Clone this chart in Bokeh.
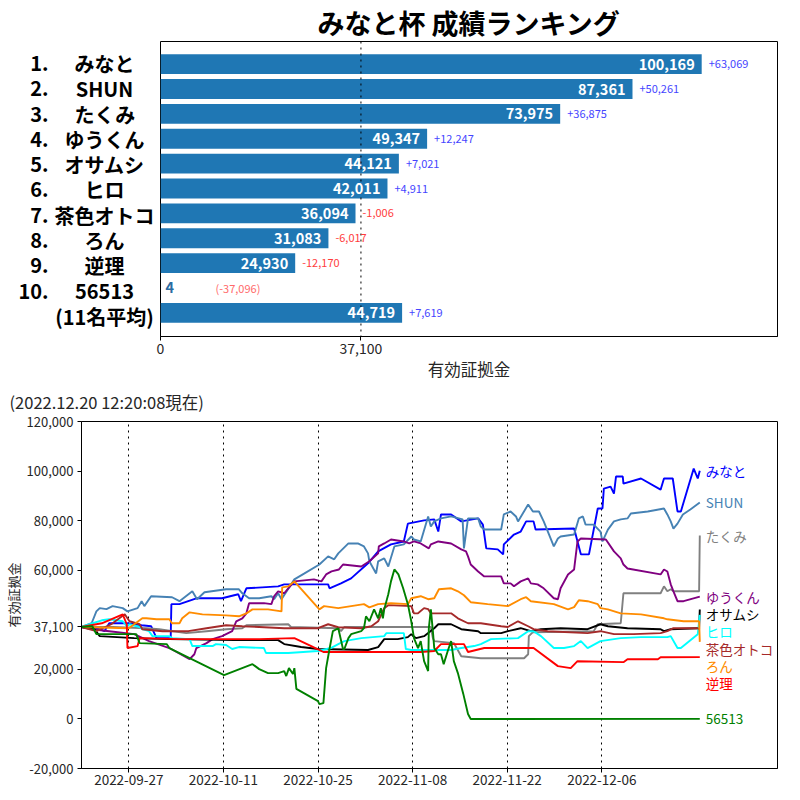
import pandas as pd
from bokeh.plotting import figure
from bokeh.models import (ColumnDataSource, LabelSet, Span, FixedTicker, Title,
                          NumeralTickFormatter, DatetimeTickFormatter, Range1d)
from bokeh.layouts import column, row
from bokeh.embed import file_html
from bokeh.resources import INLINE
from bokeh.core.properties import value

FONT = "Noto Sans CJK JP"

# ---------------- ranking data ----------------
title_text = "みなと杯 成績ランキング"
asof_text = "(2022.12.20 12:20:08現在)"
axis_title = "有効証拠金"
initial_margin = 37100

rank_labels = ["1.", "2.", "3.", "4.", "5.", "6.", "7.", "8.", "9.", "10.", ""]
names = ["みなと", "SHUN", "たくみ", "ゆうくん", "オサムシ", "ヒロ", "茶色オトコ",
         "ろん", "逆理", "56513", "(11名平均)"]
balances = [100169, 87361, 73975, 49347, 44121, 42011, 36094, 31083, 24930, 4, 44719]
deltas = [63069, 50261, 36875, 12247, 7021, 4911, -1006, -6017, -12170, -37096, 7619]

top_x_ticks = [0, 37100]
top_x_max = 114200

# ---------------- time series ----------------
date_start = "2022-09-20"
date_end = "2023-01-01"
date_ticks = ["2022-09-27", "2022-10-11", "2022-10-25", "2022-11-08", "2022-11-22", "2022-12-06"]
y_ticks = [-20000, 0, 20000, 37100, 60000, 80000, 100000, 120000]

# days since 2022-09-20 00:00, balance in yen
minato_days = [0, 2.7, 3.4, 4.1, 6.7, 8.9, 10.3, 11.1, 13.2, 13.3, 14.5, 17.1, 20.8, 23.2, 23.6, 24.4, 29.1, 30.0, 36.5, 36.7, 38.4, 39.9, 42.4, 43.9, 45.8, 47.7, 48.3, 50.7, 52.2, 52.8, 53.2, 54.7, 56.2, 58.7, 59.4, 59.9, 61.6, 62.4, 62.5, 64.0, 65.0, 65.8, 66.9, 67.2, 72.9, 73.9, 75.1, 76.4, 77.1, 77.3, 78.3, 78.8, 79.1, 80.1, 80.2, 82.8, 85.7, 86.2, 87.5, 88.2, 88.7, 90.6, 91.2, 91.5]
minato_vals = [37100, 36200, 35400, 38600, 38600, 37800, 37400, 32600, 32600, 46300, 46300, 48700, 48700, 50300, 47500, 52700, 53500, 54300, 54300, 52700, 54700, 56700, 62800, 67600, 70400, 71600, 78800, 80100, 80500, 75600, 82500, 82500, 79700, 80900, 78400, 68800, 68400, 66400, 70400, 74400, 75600, 79700, 79700, 76400, 76800, 66400, 66400, 84900, 84900, 92900, 93700, 90900, 97800, 97800, 94900, 97000, 92500, 97000, 97000, 83700, 83700, 101000, 97000, 100169]

shun_days = [0, 1.5, 2.2, 2.7, 3.7, 4.6, 6.1, 6.8, 8.3, 8.9, 9.3, 10.3, 13.4, 14.5, 16.4, 17.1, 18.2, 21.4, 23.3, 23.8, 24.8, 26.3, 28.1, 28.5, 29.1, 29.6, 31.5, 33.0, 35.2, 36.5, 37.4, 38.0, 39.5, 40.9, 41.8, 42.4, 42.6, 43.6, 43.9, 44.8, 45.4, 46.3, 47.7, 48.8, 49.2, 50.2, 51.3, 51.7, 52.2, 53.2, 54.7, 56.4, 56.6, 57.2, 58.7, 59.1, 59.6, 62.1, 62.5, 63.5, 64.3, 64.6, 66.1, 66.8, 67.7, 68.4, 69.9, 70.5, 70.9, 72.9, 73.6, 74.2, 74.6, 75.8, 76.8, 77.1, 77.9, 78.8, 79.8, 80.8, 81.3, 83.8, 86.2, 86.7, 87.2, 87.6, 88.2, 89.0, 90.1, 91.5]
shun_vals = [37100, 38600, 43400, 44700, 44300, 45500, 44700, 43400, 44700, 47500, 45500, 49500, 49100, 47500, 51500, 48300, 51100, 52300, 52300, 50700, 48700, 48700, 49500, 48300, 50700, 48300, 56300, 58700, 62300, 65600, 64400, 66800, 70800, 70800, 69600, 66800, 63600, 58700, 63600, 64800, 61500, 69600, 70400, 73600, 72400, 71600, 81700, 77600, 79700, 80900, 81700, 80500, 68800, 80900, 80900, 77600, 76400, 76400, 82500, 83700, 81700, 79700, 86500, 83700, 83700, 79700, 69600, 72800, 73600, 74400, 80900, 81700, 78400, 78400, 75600, 71600, 76400, 79700, 80500, 80900, 82900, 83700, 84900, 82500, 79700, 76800, 78800, 82500, 84500, 87361]

takumi_days = [0, 4.6, 9.6, 11.5, 15.5, 18.5, 21.4, 23.8, 24.4, 30.6, 31.0, 38.0, 38.4, 38.9, 51.7, 52.0, 52.2, 55.1, 56.2, 59.1, 65.5, 66.1, 66.2, 66.8, 75.8, 76.4, 79.8, 80.2, 85.7, 86.2, 86.7, 87.2, 87.6, 90.9, 91.4, 91.5]
takumi_vals = [37100, 37100, 36600, 36200, 34600, 35400, 36200, 36600, 37800, 38200, 37100, 36600, 35400, 37100, 37100, 32600, 31400, 30600, 25300, 24500, 24500, 26100, 33400, 35000, 35400, 38200, 38600, 50700, 50700, 53500, 51500, 52300, 51500, 51500, 51500, 73975]

yuukun_days = [0, 1.6, 4.1, 7.8, 10.0, 13.0, 16.0, 16.7, 17.0, 18.5, 19.4, 20.8, 22.3, 22.9, 23.8, 24.4, 24.8, 27.0, 28.1, 28.5, 29.1, 30.0, 30.6, 31.5, 34.4, 35.5, 36.2, 37.0, 38.1, 38.7, 41.4, 42.6, 43.9, 44.0, 44.8, 45.8, 47.7, 48.5, 49.2, 50.2, 51.4, 51.7, 52.8, 54.7, 56.2, 56.9, 57.2, 57.6, 58.7, 59.6, 62.1, 62.5, 63.5, 64.0, 65.0, 66.1, 66.5, 67.5, 68.4, 69.9, 70.5, 70.9, 72.0, 72.9, 73.4, 73.9, 77.6, 78.8, 79.8, 80.2, 80.8, 85.7, 86.2, 86.7, 87.2, 87.6, 88.2, 89.1, 91.5]
yuukun_vals = [37100, 36200, 35400, 34200, 31400, 28600, 24100, 26100, 28600, 30600, 32200, 33400, 35400, 39400, 40600, 42600, 46700, 46700, 46300, 49500, 51500, 50700, 52700, 55500, 56300, 55500, 58300, 59500, 60300, 62300, 61500, 63600, 66800, 69600, 70800, 72400, 71600, 70800, 71600, 70800, 68800, 70400, 71600, 70800, 68400, 67600, 65600, 62300, 59500, 57500, 57500, 54700, 54700, 53500, 55500, 56700, 54700, 54300, 52700, 48700, 48300, 52700, 58300, 60300, 71600, 72800, 72400, 67600, 64800, 62300, 60700, 58300, 60300, 59500, 54300, 51500, 47500, 47500, 49347]

osamushi_days = [0, 1.9, 2.7, 7.8, 12.9, 22.6, 29.1, 30.0, 32.5, 35.0, 42.4, 43.9, 44.8, 46.8, 48.3, 48.8, 49.5, 50.7, 52.2, 52.8, 54.7, 56.2, 58.7, 59.1, 62.1, 63.1, 65.0, 66.5, 68.0, 70.9, 74.9, 76.8, 77.9, 80.8, 85.7, 86.2, 87.2, 91.2, 91.4, 91.5]
osamushi_vals = [37100, 36200, 33400, 32600, 32200, 31800, 31800, 30200, 29000, 28200, 27800, 29000, 32200, 32200, 33000, 34200, 32600, 33400, 36600, 38200, 38200, 36200, 35400, 34600, 34600, 35400, 36600, 35400, 36200, 36600, 36200, 38200, 37400, 36600, 36200, 35400, 36200, 36600, 36600, 44121]

hiro_days = [0, 1.2, 3.0, 4.1, 6.1, 6.7, 7.1, 8.6, 9.0, 10.0, 10.5, 13.0, 13.4, 16.0, 16.4, 19.4, 19.9, 21.4, 22.3, 23.3, 27.0, 27.3, 30.6, 35.0, 36.9, 38.0, 38.9, 41.4, 44.8, 45.1, 47.7, 48.0, 48.8, 54.7, 56.2, 58.1, 59.1, 60.6, 64.6, 66.1, 66.9, 68.0, 69.9, 71.4, 72.9, 73.9, 74.9, 76.8, 78.8, 79.8, 82.8, 86.7, 87.2, 88.2, 88.7, 91.2, 91.5]
hiro_vals = [37100, 38200, 39800, 40200, 39400, 37400, 38200, 37100, 36200, 35400, 33400, 33400, 32600, 32200, 29400, 29400, 30200, 29800, 28200, 29000, 28600, 26600, 26600, 27400, 28600, 30200, 31400, 32600, 33400, 34600, 34600, 28200, 27800, 27800, 28600, 29400, 30200, 32200, 32600, 35400, 35400, 33400, 28600, 28600, 29400, 31400, 28600, 31400, 32200, 32600, 33000, 33000, 33400, 28600, 28600, 34200, 42011]

chairo_days = [0, 2.2, 4.4, 6.4, 7.1, 8.6, 9.0, 12.0, 15.8, 18.5, 21.4, 23.8, 26.3, 30.0, 35.0, 36.5, 38.0, 41.4, 42.9, 43.9, 44.8, 45.4, 48.8, 49.2, 49.8, 50.7, 51.3, 51.7, 54.7, 55.7, 57.2, 59.1, 62.1, 63.1, 64.6, 66.1, 66.9, 69.0, 74.9, 76.8, 78.8, 81.7, 85.7, 86.7, 87.6, 91.2, 91.5]
chairo_vals = [37100, 35400, 38200, 42200, 39400, 38200, 36200, 35400, 35400, 36600, 37800, 37400, 37100, 36600, 36600, 38200, 37000, 36600, 37400, 39400, 44700, 45900, 45500, 42600, 42600, 44700, 44300, 42600, 42600, 40600, 38600, 38600, 37400, 37100, 39400, 37400, 36200, 35400, 34600, 35400, 34200, 34200, 34600, 35400, 36600, 36600, 36094]

ron_days = [0, 7.0, 7.8, 9.0, 9.6, 11.1, 13.0, 13.4, 14.5, 14.9, 16.0, 17.9, 21.4, 23.3, 24.4, 25.3, 27.6, 29.6, 29.7, 30.6, 31.5, 35.2, 35.9, 38.0, 39.9, 41.8, 42.6, 43.9, 45.8, 48.3, 48.8, 50.2, 51.3, 52.2, 52.9, 54.7, 55.7, 56.6, 57.6, 60.1, 63.1, 65.0, 65.8, 66.5, 69.9, 72.0, 72.9, 73.6, 74.9, 76.4, 76.8, 77.9, 79.8, 82.8, 86.2, 86.7, 89.1, 90.9, 91.4, 91.5]
ron_vals = [37100, 36600, 38200, 40600, 40600, 40200, 40200, 38600, 38600, 40600, 43000, 42200, 41800, 41400, 42600, 44200, 44200, 43400, 53100, 53500, 55500, 44200, 45500, 44700, 45500, 46300, 45000, 46300, 46700, 46300, 48700, 49500, 48300, 48700, 52300, 52700, 51500, 49900, 47100, 46300, 45500, 48300, 49100, 47500, 46300, 44200, 45100, 47900, 47500, 46300, 44700, 44200, 42600, 42200, 40600, 40200, 39400, 39400, 39400, 31083]

gyakuri_days = [0, 3.0, 6.1, 6.7, 6.8, 8.3, 8.6, 14.5, 26.3, 31.5, 34.0, 35.8, 50.2, 52.2, 53.2, 56.6, 57.2, 59.6, 66.9, 70.5, 72.4, 73.4, 80.2, 80.8, 85.3, 85.7, 91.5]
gyakuri_vals = [37100, 38600, 42200, 38200, 28600, 29400, 32600, 32200, 32200, 32600, 29400, 27000, 27000, 27400, 30200, 30200, 27000, 28600, 28600, 21300, 20500, 23300, 22900, 24100, 24100, 24900, 24930]

p56513_days = [0, 1.6, 2.2, 8.1, 8.6, 12.6, 13.0, 21.1, 25.3, 26.3, 27.6, 29.1, 30.0, 30.3, 30.7, 31.3, 31.5, 31.8, 35.0, 35.2, 35.8, 36.2, 36.7, 37.2, 38.0, 38.7, 38.9, 39.5, 39.9, 41.4, 41.8, 42.1, 42.6, 43.3, 43.9, 44.3, 44.6, 44.8, 45.4, 45.8, 46.3, 46.9, 47.6, 48.3, 48.8, 49.2, 49.8, 50.2, 50.7, 51.3, 51.4, 51.7, 52.0, 52.2, 52.8, 53.2, 53.6, 54.2, 54.7, 55.1, 55.7, 56.5, 57.2, 57.6, 91.5]
p56513_vals = [37100, 37400, 34200, 34200, 30600, 30200, 28600, 17700, 22100, 20100, 18500, 18500, 19300, 17300, 20500, 18100, 20500, 12100, 7200, 6000, 6400, 20500, 28200, 35400, 36600, 28200, 28200, 32600, 34200, 35400, 36600, 41400, 39400, 44200, 40600, 44700, 40600, 44200, 50300, 55500, 60300, 58300, 52700, 46300, 39400, 32600, 28600, 31400, 23300, 19300, 36600, 44200, 35400, 28600, 26100, 26100, 22100, 27400, 31400, 23300, 18500, 10100, 2000, 0, 4]

series_names = ["みなと", "SHUN", "たくみ", "ゆうくん", "オサムシ", "ヒロ", "茶色オトコ", "ろん", "逆理", "56513"]
series_days = [minato_days, shun_days, takumi_days, yuukun_days, osamushi_days,
               hiro_days, chairo_days, ron_days, gyakuri_days, p56513_days]
series_vals = [minato_vals, shun_vals, takumi_vals, yuukun_vals, osamushi_vals,
               hiro_vals, chairo_vals, ron_vals, gyakuri_vals, p56513_vals]
series_colors = ["blue", "steelblue", "gray", "purple", "black",
                 "cyan", "brown", "darkorange", "red", "green"]


def no_align(fig):
    try:
        fig.frame_align = False
    except Exception:
        pass


TOP_H = 383
BOT_H = 800 - TOP_H
LABEL_W = 156

# =============== top: ranking bar chart ===============
rows = list(range(len(names)))
bar_y_range = Range1d(10.95, -0.91)

label_fig = figure(width=LABEL_W, height=TOP_H, output_backend="svg", toolbar_location=None,
                   title=None, x_range=Range1d(0, LABEL_W), y_range=bar_y_range,
                   x_axis_location=None, y_axis_location=None,
                   min_border_left=0, min_border_right=0, min_border_top=40, min_border_bottom=TOP_H - 340)
label_fig.grid.visible = False
label_fig.outline_line_color = None
no_align(label_fig)

name_src = ColumnDataSource(dict(row=rows, rank=rank_labels, name=names))
label_fig.text(x=48, y="row", text="rank", source=name_src, text_align="right",
               text_baseline="middle", text_color="black", text_font=value(FONT),
               text_font_size="20px", text_font_style="bold")
label_fig.text(x=104, y="row", text="name", source=name_src, text_align="center",
               text_baseline="middle", text_color="black", text_font=value(FONT),
               text_font_size="20px", text_font_style="bold")

top = figure(width=800 - LABEL_W, height=TOP_H, output_backend="svg", toolbar_location=None,
             x_range=Range1d(0, top_x_max), y_range=bar_y_range, y_axis_location=None,
             min_border_left=4, min_border_right=23, min_border_top=40, min_border_bottom=TOP_H - 340)
no_align(top)
top.title.text = title_text
top.title.align = "center"
top.title.text_font = FONT
top.title.text_font_size = "27px"
top.title.text_font_style = "bold"
top.title.text_color = "black"
top.title.standoff = 0
top.xgrid.visible = False
top.ygrid.visible = False
top.outline_line_color = "black"
top.outline_line_alpha = 1.0

bar_src = ColumnDataSource(dict(row=rows, bal=balances))
top.hbar(y="row", left=0, right="bal", height=0.8, fill_color="#1f77b4", line_color=None, source=bar_src)
top.add_layout(Span(location=initial_margin, dimension="height", line_color="black",
                    line_dash="dotted", line_width=1))

ax = top.xaxis[0]
ax.ticker = FixedTicker(ticks=top_x_ticks)
ax.formatter = NumeralTickFormatter(format="0,0")
ax.minor_tick_line_color = None
ax.major_tick_in = 0
ax.major_tick_out = 4
ax.axis_line_color = "black"
ax.major_tick_line_color = "black"
ax.major_label_text_font = FONT
ax.major_label_text_font_size = "14px"
ax.major_label_text_color = "#262626"
ax.major_label_standoff = 2
ax.axis_label = axis_title
ax.axis_label_text_font = FONT
ax.axis_label_text_font_size = "16.5px"
ax.axis_label_text_font_style = "normal"
ax.axis_label_text_color = "#262626"
ax.axis_label_standoff = 0

inside = [b >= 10000 for b in balances]
in_idx = [i for i in rows if inside[i]]
out_idx = [i for i in rows if not inside[i]]

val_in = ColumnDataSource(dict(row=[rows[i] for i in in_idx], bal=[balances[i] for i in in_idx],
                               txt=[f"{balances[i]:,}" for i in in_idx]))
val_out = ColumnDataSource(dict(row=[rows[i] for i in out_idx], bal=[balances[i] for i in out_idx],
                                txt=[f"{balances[i]:,}" for i in out_idx]))
top.add_layout(LabelSet(x="bal", y="row", text="txt", source=val_in, x_offset=-7,
                        text_align="right", text_baseline="middle", text_color="white",
                        text_font=value(FONT), text_font_size="14.5px", text_font_style="bold"))
top.add_layout(LabelSet(x="bal", y="row", text="txt", source=val_out, x_offset=5,
                        text_align="left", text_baseline="middle", text_color="#2b6ca3",
                        text_font=value(FONT), text_font_size="14.5px", text_font_style="bold"))

d_txt = [(f"{d:+,}" if ins else f"({d:+,})") for d, ins in zip(deltas, inside)]
d_col = [(("#4545ff" if d > 0 else "#ff3c3c") if ins else "#ff6a6a") for d, ins in zip(deltas, inside)]
d_off = [7 if ins else 55 for ins in inside]
delta_src = ColumnDataSource(dict(row=rows, bal=balances, txt=d_txt, col=d_col, off=d_off))
top.add_layout(LabelSet(x="bal", y="row", text="txt", source=delta_src, x_offset="off",
                        text_align="left", text_baseline="middle", text_color="col",
                        text_font=value(FONT), text_font_size="11px"))

# =============== bottom: time series ===============
t0 = pd.Timestamp(date_start)
bot = figure(width=800, height=BOT_H, x_axis_type="datetime", output_backend="svg",
             toolbar_location=None,
             x_range=Range1d(t0, pd.Timestamp(date_end)), y_range=Range1d(-20000, 120000),
             min_border_left=80, min_border_right=23, min_border_top=420 - TOP_H, min_border_bottom=32)
no_align(bot)
bot.title.text = asof_text
bot.title.align = "left"
bot.title.vertical_align = "top"
bot.title.offset = -72
bot.title.standoff = 12
bot.title.text_font = FONT
bot.title.text_font_size = "16.5px"
bot.title.text_font_style = "normal"
bot.title.text_color = "#262626"
bot.outline_line_color = "black"
bot.outline_line_alpha = 1.0
bot.ygrid.visible = False

tick_ms = [pd.Timestamp(d).value // 10**6 for d in date_ticks]
xa = bot.xaxis[0]
xa.ticker = FixedTicker(ticks=tick_ms)
fmt = "%Y-%m-%d"
xa.formatter = DatetimeTickFormatter(milliseconds=fmt, seconds=fmt, minsec=fmt, minutes=fmt,
                                     hourmin=fmt, hours=fmt, days=fmt, months=fmt, years=fmt)
bot.xgrid.ticker = FixedTicker(ticks=tick_ms)
bot.xgrid.grid_line_color = "black"
bot.xgrid.grid_line_alpha = 1.0
bot.xgrid.grid_line_dash = "dotted"
bot.xgrid.grid_line_width = 1

ya = bot.yaxis[0]
ya.ticker = FixedTicker(ticks=y_ticks)
ya.formatter = NumeralTickFormatter(format="0,0")

for a in (xa, ya):
    a.minor_tick_line_color = None
    a.major_tick_in = 0
    a.major_tick_out = 4
    a.axis_line_color = "black"
    a.major_tick_line_color = "black"
    a.major_label_text_font = FONT
    a.major_label_text_color = "#262626"
    a.major_label_standoff = 2
xa.major_label_text_font_size = "13.5px"
ya.major_label_text_font_size = "13px"
ya.major_label_standoff = 4

# y-axis title at the left of the tick labels
bot.add_layout(Title(text=axis_title, align="center", text_font=FONT, text_font_size="13px",
                     text_font_style="normal", text_color="#262626", standoff=2), "left")

last_x = []
finals = []
for nm, d, v, c in zip(series_names, series_days, series_vals, series_colors):
    n = min(len(d), len(v))
    xs = [t0 + pd.Timedelta(days=float(x)) for x in d[:n]]
    bot.line(xs, v[:n], line_color=c, line_width=1.9)
    last_x.append(xs[-1])
    finals.append(v[n - 1])

# end labels, pushed apart so that they do not overlap
label_gap = 7000
order = sorted(range(len(finals)), key=lambda i: -finals[i])
label_y = [0] * len(finals)
prev = None
for i in order:
    yv = finals[i] if prev is None else min(finals[i], prev - label_gap)
    label_y[i] = yv
    prev = yv

end_src = ColumnDataSource(dict(x=last_x, y=label_y, txt=series_names, col=series_colors))
bot.add_layout(LabelSet(x="x", y="y", text="txt", source=end_src, x_offset=6,
                        text_align="left", text_baseline="middle", text_color="col",
                        text_font=value(FONT), text_font_size="13.5px"))

layout = column(row(label_fig, top), bot)
open("out.html", "w").write(file_html(layout, INLINE))
